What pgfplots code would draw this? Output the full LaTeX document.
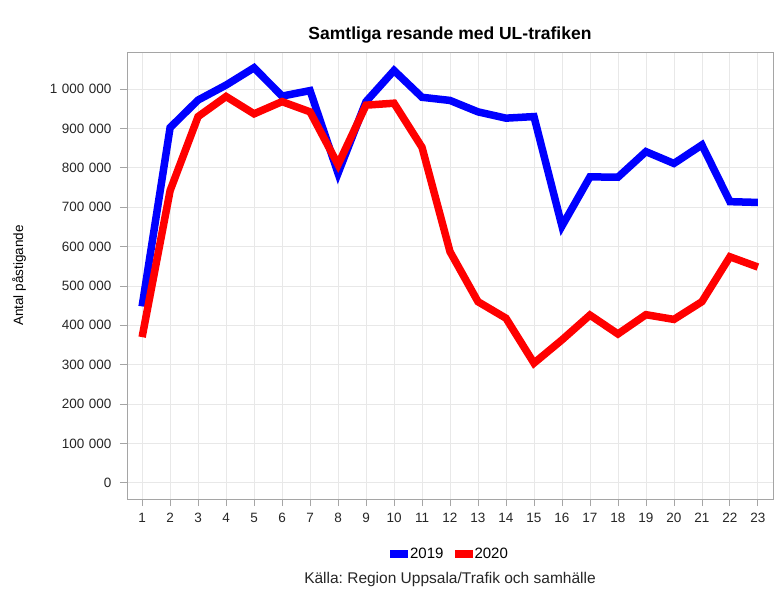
\documentclass[border=0pt]{standalone}
\usepackage{pgfplots}
\pgfplotsset{compat=1.18}
\usepackage{fontspec}
\setmainfont{Liberation Sans}
\frenchspacing
\definecolor{gridc}{RGB}{232,232,232}
\definecolor{framec}{RGB}{165,165,165}
\definecolor{c2019}{RGB}{0,0,255}
\definecolor{c2020}{RGB}{255,0,0}

\begin{document}
\begin{tikzpicture}
\begin{axis}[
    at={(0,0)}, anchor=south west,
    scale only axis,
    width=646pt, height=447pt,
    clip mode=individual,
    xmin=0.46, xmax=23.54,
    ymin=-41000, ymax=1094000,
    xtick={1,...,23},
    ytick={0,100000,...,1000000},
    scaled y ticks=false,
    /pgf/number format/.cd, fixed, precision=0, 1000 sep={\hspace{4.5pt}}, assume math mode=true,
    /pgfplots/.cd,
    grid=major,
    grid style={gridc, line width=0.8pt},
    axis line style={framec, line width=0.8pt},
    tick style={framec, line width=0.8pt},
    tick align=outside,
    major tick length=7pt,
    tick pos=left,
    tick label style={font=\fontsize{13.5}{15}\selectfont, text=black!85},
    xticklabel style={yshift=-4pt},
    yticklabel style={xshift=-5pt},
    ylabel={Antal påstigande},
    ylabel style={font=\fontsize{13.5}{15}\selectfont, anchor=center, at={(axis description cs:-0.167,0.5)}},
    title={Samtliga resande med UL-trafiken},
    title style={font=\fontsize{17.5}{19}\selectfont\bfseries, anchor=center, at={(axis description cs:0.5,1)}, yshift=11pt},
    legend columns=2,
    legend style={draw=none, at={(0.5,-0.123)}, anchor=center,
        font=\fontsize{15}{17}\selectfont, inner sep=0pt,
        /tikz/every even column/.append style={column sep=9pt}},
    legend image code/.code={\fill[#1, draw=none] (0pt,-4pt) rectangle (18pt,4pt);},
]
\addplot[c2019, line width=7.5pt, line join=miter] table {
x y
1 448000
2 902000
3 972000
4 1010000
5 1054000
6 982000
7 996000
8 786000
9 968000
10 1047000
11 979000
12 971000
13 942000
14 926000
15 930000
16 652000
17 777000
18 776000
19 841000
20 811000
21 858000
22 714000
23 712000
};
\addlegendentry{2019}
\addplot[c2020, line width=7.5pt, line join=miter] table {
x y
1 370000
2 742000
3 930000
4 981000
5 937000
6 968000
7 942000
8 808000
9 959000
10 964000
11 852000
12 587000
13 460000
14 418000
15 304000
16 363000
17 426000
18 378000
19 427000
20 415000
21 460000
22 574000
23 548000
};
\addlegendentry{2020}
\node[font=\fontsize{15.5}{17}\selectfont, text=black!85] at (axis description cs:0.5,-0.179) {Källa: Region Uppsala/Trafik och samhälle};
\end{axis}
\pgfresetboundingbox
\useasboundingbox (-127pt,-98pt) rectangle (652pt,499pt);
\end{tikzpicture}
\end{document}
